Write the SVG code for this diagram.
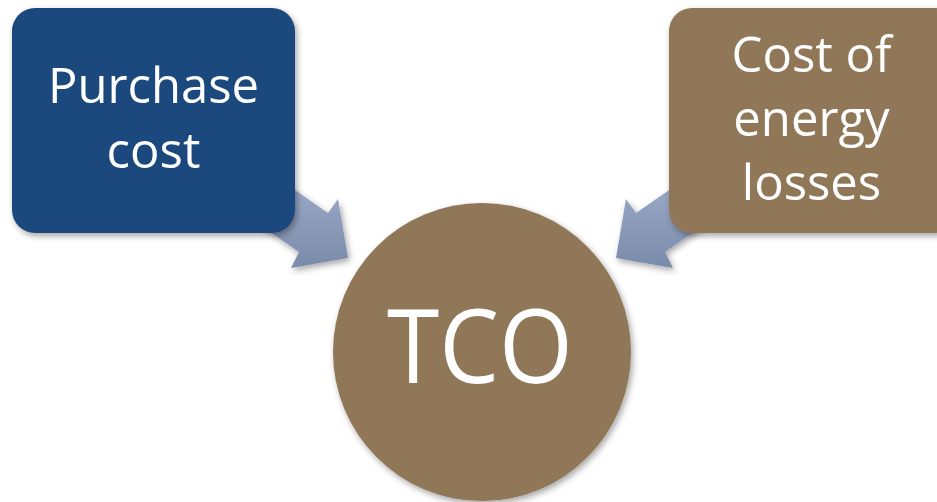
<svg xmlns="http://www.w3.org/2000/svg" width="937" height="502" viewBox="0 0 937 502">
  <defs>
    <filter id="shadow" x="-20%" y="-20%" width="140%" height="140%">
      <feDropShadow dx="2" dy="3" stdDeviation="3" flood-color="#000" flood-opacity="0.35"/>
    </filter>
    <linearGradient id="arrowGrad" x1="0" y1="0" x2="0" y2="1">
      <stop offset="0" stop-color="#9DABC8"/>
      <stop offset="1" stop-color="#7A8AAA"/>
    </linearGradient>
    <style>
      .lbl { font-family: "Open Sans", "Noto Sans", "Liberation Sans", sans-serif; fill: #ffffff; text-anchor: middle; }
      .box { filter: url(#shadow); }
      .arrow { fill: url(#arrowGrad); filter: url(#shadow); }
    </style>
  </defs>
  <rect width="937" height="502" fill="#ffffff"/>
  <g id="connectors">
    <polygon class="arrow" points="279,179 328,213 338,199 348,258 291,268 299,252 250,218"/>
    <polygon class="arrow" points="685,179 636,213 626,199 616,258 673,268 665,252 714,218"/>
  </g>
  <g id="purchase">
    <rect class="box" x="12" y="8" width="283" height="225" rx="23" fill="#1F497D"/>
    <text class="lbl" font-size="49"><tspan x="153.5" y="103">Purchase</tspan><tspan x="153.5" y="168">cost</tspan></text>
  </g>
  <g id="energy">
    <rect class="box" x="669" y="8" width="290" height="225" rx="23" fill="#8F7759"/>
    <text class="lbl" font-size="49"><tspan x="811.5" y="72">Cost of</tspan><tspan x="811.5" y="136">energy</tspan><tspan x="811.5" y="200">losses</tspan></text>
  </g>
  <g id="tco">
    <circle class="box" cx="482" cy="352" r="149" fill="#8F7759"/>
    <text class="lbl" x="480" y="383" font-size="102" textLength="186" lengthAdjust="spacingAndGlyphs">TCO</text>
  </g>
</svg>
